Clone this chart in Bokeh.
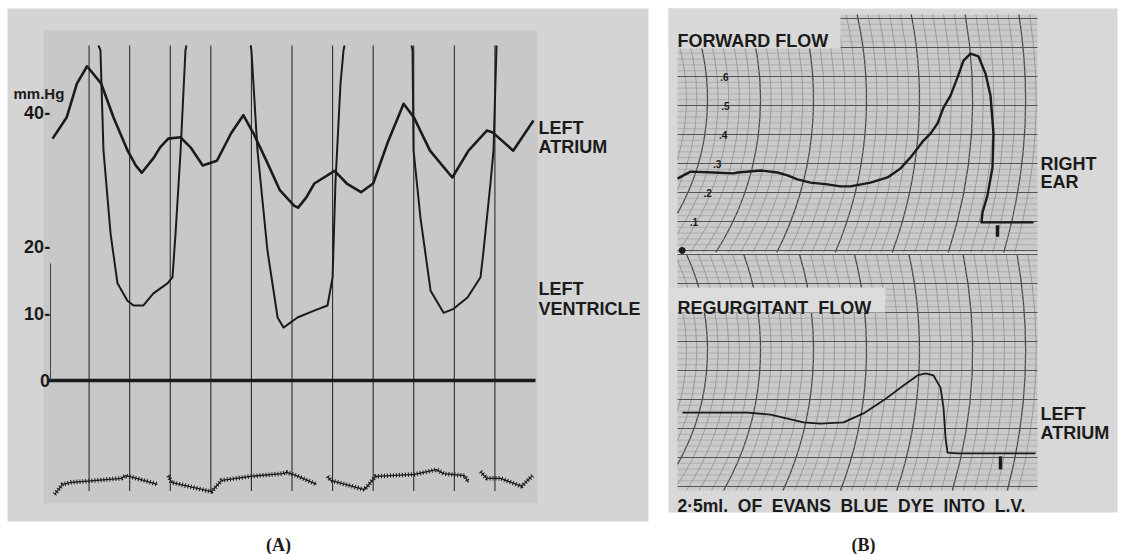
import numpy as np
from bokeh.plotting import figure
from bokeh.models import Range1d
from bokeh.core.properties import value
from bokeh.embed import file_html
from bokeh.resources import INLINE

# ---------------- DATA ----------------
# Panel A: time (s) and pressure (mm Hg)
la_t = [0.02, 0.09, 0.14, 0.19, 0.26, 0.32, 0.39, 0.43, 0.46, 0.52, 0.55, 0.59, 0.65, 0.70,
        0.76, 0.83, 0.90, 0.96, 1.01, 1.08, 1.14, 1.21, 1.23, 1.27, 1.31, 1.41, 1.47, 1.54,
        1.60, 1.67, 1.75, 1.80, 1.88, 1.99, 2.07, 2.16, 2.19, 2.29, 2.39]
la_p = [36.1, 39.3, 44.3, 46.9, 44.3, 39.3, 34.3, 32.1, 31.0, 33.3, 34.8, 36.1, 36.3, 34.8,
        32.1, 32.8, 36.9, 39.6, 36.9, 32.4, 28.4, 26.1, 25.8, 27.3, 29.4, 31.3, 29.4, 28.1,
        29.4, 35.4, 41.3, 39.3, 34.3, 30.3, 34.3, 37.3, 37.0, 34.3, 38.8]

# left ventricle: diastolic segments; systolic peaks run off the top of the record (50)
lv_t = [[0.246, 0.256, 0.271, 0.306, 0.340, 0.389, 0.419, 0.468, 0.517, 0.586, 0.611, 0.626, 0.651, 0.675, 0.680],
        [0.996, 1.000, 1.030, 1.079, 1.129, 1.158, 1.227, 1.306, 1.375, 1.400, 1.414, 1.439, 1.454, 1.459],
        [1.789, 1.794, 1.799, 1.833, 1.883, 1.947, 1.996, 2.065, 2.129, 2.144, 2.178, 2.193, 2.208]]
lv_p = [[50, 49.3, 34.3, 21.9, 14.5, 11.9, 11.2, 11.2, 13.0, 14.5, 15.4, 21.9, 34.3, 49.3, 50],
        [50, 49.3, 34.3, 19.4, 9.4, 7.9, 9.4, 10.4, 11.2, 15.4, 29.4, 44.3, 49.3, 50],
        [50, 49.3, 34.3, 24.3, 13.4, 10.1, 10.7, 12.4, 15.4, 19.4, 29.4, 34.3, 50]]

# reference trace at the foot of the record (drawn on the pressure scale)
ecg_t = [[0.030, 0.069, 0.113, 0.360, 0.380, 0.434, 0.537],
         [0.591, 0.606, 0.803, 0.853, 0.996, 1.153, 1.173, 1.222, 1.321],
         [1.375, 1.390, 1.557, 1.612, 1.804, 1.912, 1.947, 2.050, 2.070],
         [2.129, 2.159, 2.228, 2.331, 2.385]]
ecg_p = [[-17.0, -15.5, -15.2, -14.6, -14.2, -14.6, -15.5],
         [-14.2, -15.2, -16.6, -14.9, -14.3, -13.9, -13.7, -14.2, -15.5],
         [-14.3, -14.9, -16.3, -14.3, -14.0, -13.3, -13.9, -14.2, -15.2],
         [-13.6, -14.6, -14.6, -15.8, -14.2]]

timing_t = [0.2, 0.4, 0.6, 0.8, 1.0, 1.2, 1.4, 1.6, 1.8, 2.0, 2.2]
p_ticks = [0, 10, 20, 40]
p_tick_labels = ["0", "10-", "20-", "40-"]

# Panel B: dye-dilution curves, chart time (s) and optical density
fwd_t = [0.0, 1.3, 3.6, 5.6, 6.0, 8.3, 10.0, 11.0, 12.0, 13.3, 15.0, 16.3, 17.3, 19.3, 21.0,
         22.3, 23.3, 24.6, 25.3, 26.0, 26.6, 27.3, 28.0, 28.6, 29.3, 30.1, 30.8, 31.3, 31.6,
         31.5, 31.0, 30.5, 30.4, 32.3, 35.6]
fwd_od = [0.248, 0.272, 0.269, 0.266, 0.269, 0.276, 0.269, 0.259, 0.245, 0.234, 0.228, 0.221,
          0.221, 0.234, 0.252, 0.283, 0.321, 0.379, 0.403, 0.438, 0.493, 0.534, 0.597, 0.655,
          0.679, 0.669, 0.610, 0.534, 0.403, 0.286, 0.190, 0.131, 0.097, 0.097, 0.097]
reg_t = [0.5, 7.0, 9.3, 12.6, 14.3, 16.6, 18.6, 20.6, 22.6, 24.0, 24.8, 25.6, 26.3, 26.6,
         26.8, 27.0, 28.0, 35.8]
reg_od = [0.255, 0.255, 0.248, 0.221, 0.217, 0.221, 0.252, 0.297, 0.348, 0.383, 0.390, 0.383,
          0.341, 0.272, 0.169, 0.117, 0.114, 0.114]
inj_fwd_t = [32.0]
inj_reg_t = [32.3]
od_scale = [0.1, 0.2, 0.3, 0.4, 0.5, 0.6]
od_scale_labels = [".1", ".2", ".3", ".4", ".5", ".6"]

# ---------------- LAYOUT ----------------
W, H = 1123, 554
X0, Y0 = 0, 0
X1, Y1 = X0 + W, Y0 + H

INK = "#1b1b1b"
PAPER_A = "#d4d4d4"
CHART_A = "#c8c8c8"
PAPER_B = "#d8d8d8"
GRID_BG = "#cacaca"
LABEL_BOX = "#dcdcdc"
SANS = "Liberation Sans"


def span(a, pa, b, pb, lo, hi):
    s = (pb - pa) / (b - a)
    return a + (lo - pa) / s, a + (hi - pa) / s


ax = span(0, 48, 2.4, 535, X0, X1)
ay = span(0, 380, 40, 112, Y1, Y0)
bx = span(0, 677, 1, 687, X0, X1)
b1y = span(0, 250, 1, -40, Y1, Y0)
b2y = span(0, 486, 1, 196, Y1, Y0)

p = figure(width=W, height=H, x_range=Range1d(*ax), y_range=Range1d(*ay),
           output_backend="svg", toolbar_location=None, min_border=0,
           x_axis_type=None, y_axis_type=None,
           background_fill_color="white", border_fill_color="white",
           outline_line_color=None)
p.title.visible = False
p.extra_x_ranges = {"pgx": Range1d(X0, X1), "xb": Range1d(*bx)}
p.extra_y_ranges = {"pgy": Range1d(Y1, Y0), "b1": Range1d(*b1y), "b2": Range1d(*b2y)}

PG = dict(x_range_name="pgx", y_range_name="pgy")


def box(l, r, t, b, color):
    p.quad(left=[l], right=[r], top=[t], bottom=[b], fill_color=color, line_color=None, **PG)


def txt(x, y, s, size="18px", align="left", baseline="alphabetic", font=SANS,
        style="bold", xr="pgx", yr="pgy", color=INK):
    p.text(x=x if isinstance(x, list) else [x], y=y if isinstance(y, list) else [y],
           text=s if isinstance(s, list) else [s], x_range_name=xr, y_range_name=yr,
           text_font=value(font), text_font_size=size, text_align=align,
           text_baseline=baseline, text_font_style=style, text_color=color)


# ---- paper backgrounds ----
box(7, 648, 8, 521, PAPER_A)
box(43, 537, 30, 503, CHART_A)
box(668, 1117, 8, 512, PAPER_B)
box(677, 1037, 14, 252, GRID_BG)
box(677, 1037, 254, 490, GRID_BG)

# ---- panel B chart-paper grid ----
cx_pg = 476.0
radii_px = 231 + 10.6 * np.arange(-2, 32)
major = (np.arange(-2, 32) % 5) == 0


def strip_grid(yname, cy_pg, top_pg, bot_pg, base_pg):
    th_left = np.arccos(np.clip((677 - cx_pg) / radii_px, -1, 1))
    th_top = np.minimum(np.arcsin(np.clip((cy_pg - top_pg) / radii_px, -1, 1)), th_left)
    th_bot = np.minimum(np.arcsin(np.clip((bot_pg - cy_pg) / radii_px, -1, 1)), th_left)
    cxu = (cx_pg - 677) / 10.0
    cyu = (base_pg - cy_pg) / 290.0
    for sel, col, lw in ((~major, "#858585", 0.7), (major, "#4a4a4a", 1.3)):
        n = int(sel.sum())
        p.arc(x=[cxu] * n, y=[cyu] * n, radius=list(radii_px[sel] / 10.0),
              start_angle=list(-th_bot[sel]), end_angle=list(th_top[sel]),
              line_color=col, line_width=lw, x_range_name="xb", y_range_name=yname)
    lo = (base_pg - bot_pg) / 290.0
    hi = (base_pg - top_pg) / 290.0
    levels = np.round(np.arange(0, 0.82, 0.02), 2)
    levels = levels[(levels >= lo - 1e-9) & (levels <= hi + 1e-9)]
    maj = np.isclose((levels * 10) % 1, 0) | np.isclose((levels * 10) % 1, 1)
    for sel, col, lw in ((~maj, "#9a9a9a", 0.6), (maj, "#555555", 1.2)):
        lv = list(levels[sel])
        p.segment(x0=[0] * len(lv), x1=[36] * len(lv), y0=lv, y1=lv, line_color=col,
                  line_width=lw, x_range_name="xb", y_range_name=yname)


strip_grid("b1", 99.0, 14, 252, 250)
strip_grid("b2", 350.0, 254, 490, 486)

# label boxes over the grid
box(668, 840, 8, 48, PAPER_B)
box(668, 885, 287, 312, LABEL_BOX)

# densitometer scale marks on the forward-flow strip
sy_pg = 250 - 290 * np.array(od_scale)
sx_u = list((cx_pg + np.sqrt(252 ** 2 - (sy_pg - 99) ** 2) - 677) / 10.0 - 0.3)
txt(sx_u, od_scale, od_scale_labels, size="10px", align="center", baseline="middle",
    xr="xb", yr="b1")
zx = (cx_pg + np.sqrt(252 ** 2 - (250 - 99) ** 2) - 677) / 10.0 + 0.4
p.scatter(x=[zx], y=[0], size=6, color=INK, x_range_name="xb", y_range_name="b1")

# dye curves
p.line(fwd_t, fwd_od, line_color=INK, line_width=2.4, line_join="round",
       x_range_name="xb", y_range_name="b1")
p.line(reg_t, reg_od, line_color=INK, line_width=1.8, line_join="round",
       x_range_name="xb", y_range_name="b2")
# injection marks
p.segment(x0=inj_fwd_t, x1=inj_fwd_t, y0=[fwd_od[-1] - 0.01], y1=[fwd_od[-1] - 0.05],
          line_color=INK, line_width=3.5, x_range_name="xb", y_range_name="b1")
p.segment(x0=inj_reg_t, x1=inj_reg_t, y0=[reg_od[-1] - 0.01], y1=[reg_od[-1] - 0.055],
          line_color=INK, line_width=3.5, x_range_name="xb", y_range_name="b2")

# ---- panel A ----
p.segment(x0=timing_t, x1=timing_t, y0=[-16.5] * len(timing_t), y1=[50] * len(timing_t),
          line_color="#2e2e2e", line_width=1.1)
p.segment(x0=[0], x1=[2.4], y0=[0], y1=[0], line_color=INK, line_width=3.5)
p.segment(x0=[0.01], x1=[0.01], y0=[0], y1=[17.5], line_color="#444444", line_width=1)
p.multi_line(ecg_t, ecg_p, line_color=INK, line_width=1.3)
p.multi_line(ecg_t, ecg_p, line_color=INK, line_width=4.5, line_dash="1 2")
p.multi_line(lv_t, lv_p, line_color=INK, line_width=2.0, line_join="round")
p.line(la_t, la_p, line_color=INK, line_width=2.6, line_join="round")

p.text(x=[0.008] * len(p_ticks), y=p_ticks, text=p_tick_labels, text_font=value(SANS),
       text_font_size="18px", text_font_style="bold", text_align="right",
       text_baseline="middle", text_color=INK)

# ---- text labels ----
NB = "\u00a0"
txt(13, 93, "mm.Hg", size="15px")
txt(538, 127, "LEFT")
txt(538, 146, "ATRIUM")
txt(538, 288, "LEFT")
txt(538, 308, "VENTRICLE")
txt(677, 40, "FORWARD FLOW")
txt(1040, 163, "RIGHT")
txt(1040, 181, "EAR")
txt(677, 307, "REGURGITANT" + NB + " FLOW")
txt(1040, 413, "LEFT")
txt(1040, 432, "ATRIUM")
txt(677, 505, (NB + " ").join(["2·5ml.", "OF", "EVANS", "BLUE", "DYE", "INTO", "L.V."]),
    size="17.5px")
txt(278, 534, "(A)", size="18px", align="center", baseline="top", font="Liberation Serif")
txt(863, 534, "(B)", size="18px", align="center", baseline="top", font="Liberation Serif")

open("out.html", "w").write(file_html(p, INLINE))
